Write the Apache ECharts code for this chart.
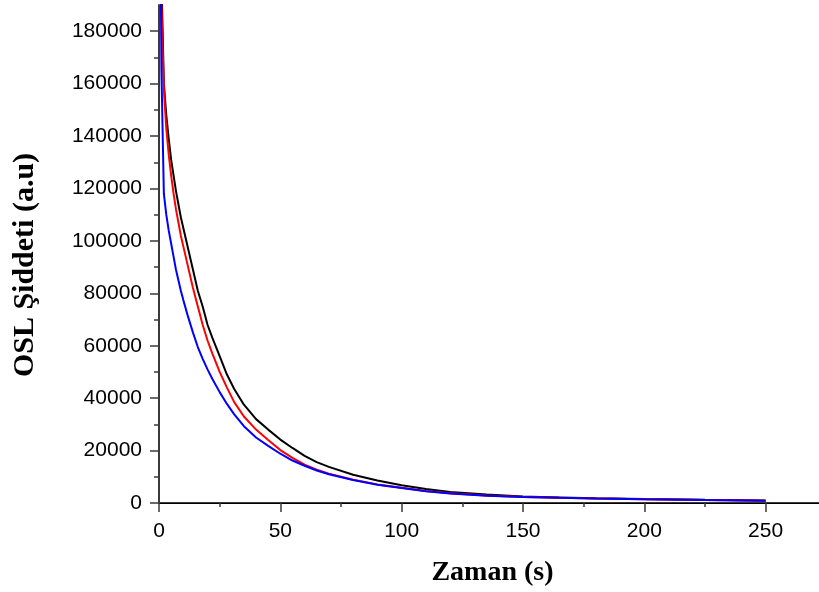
<!DOCTYPE html>
<html>
<head>
<meta charset="utf-8">
<script src="https://cdn.jsdelivr.net/npm/echarts@6/dist/echarts.min.js"></script>
<style>
  html, body { margin: 0; padding: 0; background: #fff; }
  #chart { width: 819px; height: 592px; }
</style>
</head>
<body>
<div id="chart"></div>
<script>
// Time points (s) of the OSL decay readings
const zaman = [0, 1, 2, 3, 4, 5, 6, 7, 8, 9, 10, 12, 14, 16, 18, 20, 22, 25, 28, 31, 35, 40, 45, 50, 55, 60, 65, 70, 80, 90, 100, 110, 120, 135, 150, 165, 180, 200, 225, 250];

// OSL intensity (a.u) for the three samples
const siyah = [260000, 200000, 160000, 148000, 139000, 131000, 125000, 119000, 114000, 109000, 105000, 97000, 89000, 81000, 75000, 68000, 63000, 56000, 49000, 43500, 37500, 32000, 28000, 24200, 21000, 18000, 15600, 13800, 10800, 8600, 6800, 5300, 4200, 3200, 2500, 2100, 1800, 1500, 1200, 1000];
const kirmizi = [240000, 190000, 158000, 143000, 133000, 125000, 118000, 112000, 107000, 102000, 98000, 90000, 82000, 75000, 68000, 62000, 57000, 50000, 44000, 38500, 33000, 28000, 24000, 20200, 17200, 14600, 12700, 11200, 8900, 7100, 5800, 4600, 3700, 2900, 2300, 2000, 1700, 1400, 1100, 900];
const mavi = [300000, 165000, 118000, 110000, 104000, 99000, 94000, 89000, 85000, 81000, 77500, 71000, 65000, 59500, 55000, 51000, 47300, 42300, 37800, 33800, 29300, 25000, 21800, 18800, 16200, 14200, 12400, 11000, 8800, 7000, 5700, 4500, 3600, 2800, 2300, 2000, 1700, 1400, 1100, 900];

// Axis tick positions
const xMajor = [0, 50, 100, 150, 200, 250];
const xMinor = [25, 75, 125, 175, 225];
const yMajor = [0, 20000, 40000, 60000, 80000, 100000, 120000, 140000, 160000, 180000];
const yMinor = [10000, 30000, 50000, 70000, 90000, 110000, 130000, 150000, 170000];

const axisGray = '#3a3a3a';
const tickFont = { fontFamily: 'Liberation Sans', fontSize: 21, color: '#000' };
const titleFont = { fontFamily: 'Liberation Serif', fontWeight: 'bold', color: '#000' };

function pairs(vals) {
  return zaman.map((t, i) => [t, vals[i]]);
}

const plain = (v) => String(v);

const chart = echarts.init(document.getElementById('chart'), null, { renderer: 'canvas' });

chart.setOption({
  animation: false,
  backgroundColor: '#fff',
  grid: { left: 159, right: -2, top: 5, bottom: 89, containLabel: false },
  xAxis: [
    {
      type: 'value', min: 0, max: 272,
      name: 'Zaman (s)', nameLocation: 'middle', nameGap: 56,
      nameTextStyle: Object.assign({ fontSize: 28, padding: [0, 0, 0, 7] }, titleFont),
      axisLine: { show: true, onZero: false, lineStyle: { color: axisGray, width: 2 } },
      axisTick: { show: true, length: 9, customValues: xMajor, lineStyle: { color: axisGray, width: 1.5 } },
      axisLabel: Object.assign({ margin: 18, customValues: xMajor, formatter: plain }, tickFont),
      splitLine: { show: false }
    },
    {
      type: 'value', min: 0, max: 272, position: 'bottom',
      axisLine: { show: false },
      axisTick: { show: true, length: 4, customValues: xMinor, lineStyle: { color: axisGray, width: 1.5 } },
      axisLabel: { show: false },
      splitLine: { show: false }
    },
    {
      type: 'value', min: 0, max: 272, position: 'top',
      axisLine: { show: true, lineStyle: { color: '#000', width: 1 } },
      axisTick: { show: false },
      axisLabel: { show: false },
      splitLine: { show: false }
    }
  ],
  yAxis: [
    {
      type: 'value', min: 0, max: 190000,
      name: 'OSL Şiddeti (a.u)', nameLocation: 'middle', nameGap: 119,
      nameTextStyle: Object.assign({ fontSize: 30, padding: [0, 22, 0, 0] }, titleFont),
      axisLine: { show: true, onZero: false, lineStyle: { color: axisGray, width: 2 } },
      axisTick: { show: true, length: 9, customValues: yMajor, lineStyle: { color: axisGray, width: 1.5 } },
      axisLabel: Object.assign({ margin: 17, customValues: yMajor, formatter: plain }, tickFont),
      splitLine: { show: false }
    },
    {
      type: 'value', min: 0, max: 190000, position: 'left',
      axisLine: { show: false },
      axisTick: { show: true, length: 5, customValues: yMinor, lineStyle: { color: axisGray, width: 1.5 } },
      axisLabel: { show: false },
      splitLine: { show: false }
    }
  ],
  series: [
    { type: 'line', name: 'siyah', data: pairs(siyah), xAxisIndex: 0, yAxisIndex: 0, symbol: 'none', clip: true,
      lineStyle: { color: '#000000', width: 2 } },
    { type: 'line', name: 'kirmizi', data: pairs(kirmizi), xAxisIndex: 0, yAxisIndex: 0, symbol: 'none', clip: true,
      lineStyle: { color: '#ff0000', width: 2 } },
    { type: 'line', name: 'mavi', data: pairs(mavi), xAxisIndex: 0, yAxisIndex: 0, symbol: 'none', clip: true,
      lineStyle: { color: '#0000ff', width: 2 } }
  ]
});
</script>
</body>
</html>
